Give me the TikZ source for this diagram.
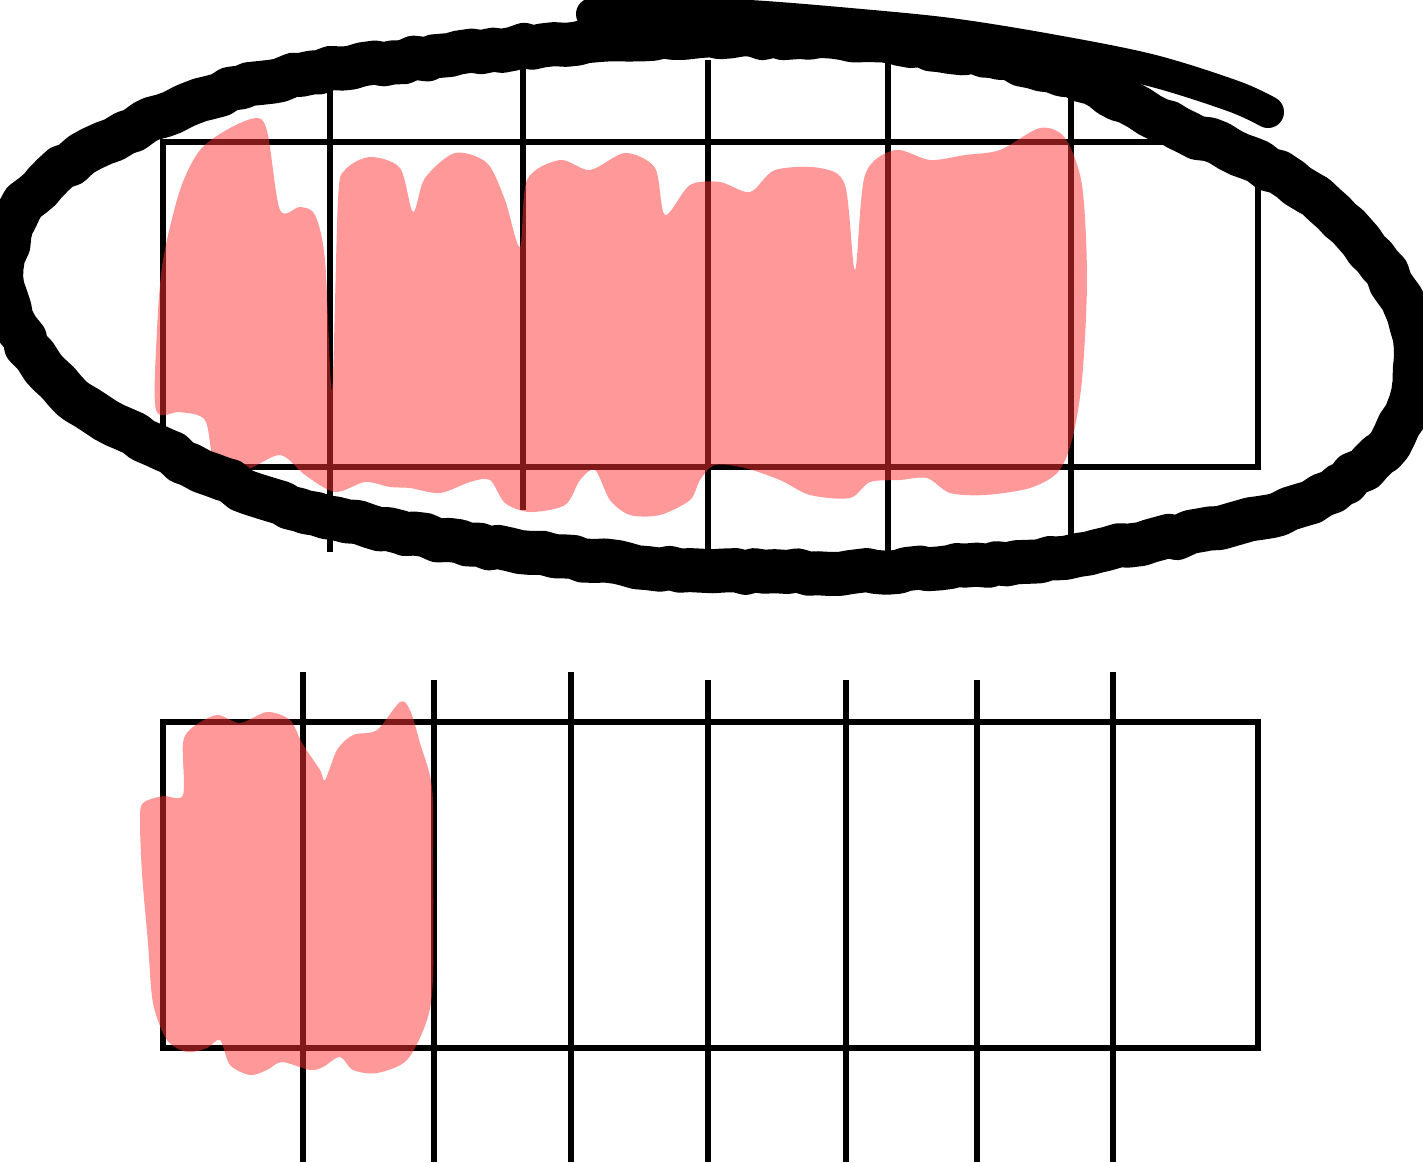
\documentclass[tikz,border=0pt]{standalone}
\usepackage{tikz}
\usetikzlibrary{decorations.pathmorphing}
\definecolor{shade}{RGB}{255,51,51}
\definecolor{ink}{HTML}{000000}

\begin{document}
\begin{tikzpicture}[x=0.01cm,y=-0.01cm,
  bar/.style={draw=ink,line width=0.6mm},
  tick/.style={draw=ink,line width=0.6mm},
  scribble/.style={fill=shade,fill opacity=0.5,draw=none},
  pen/.style={draw=ink,line width=4.4mm,line join=round,line cap=round},
  loop/.style={pen,decorate,decoration={random steps,segment length=3pt,amplitude=0.6pt}}]
\useasboundingbox (0,0) rectangle (1423,1162);

% top bar: six parts
\foreach \x/\y in {330/552,523/510,708/552,888/552,1071/535}
  \draw[tick] (\x,60) -- (\x,\y);
\draw[bar] (163,142) rectangle (1258,467);

% bottom bar: eight parts
\foreach \x/\y in {303/672,434/680,571/672,708/680,846/680,977/680,1113/672}
  \draw[tick] (\x,\y) -- (\x,1162);
\draw[bar] (163,722) rectangle (1258,1048);

% shading, five of six
\fill[scribble] plot[smooth cycle,tension=0.5] coordinates {
  (156,410) (157,330) (163,260) (180,190) (200,150) (230,128) (258,118)
  (268,135) (280,210) (300,207) (315,215) (325,260) (332,390) (338,200)
  (345,170) (370,157) (400,168) (413,212) (425,178) (455,153) (487,163)
  (505,200) (520,247) (527,180) (560,160) (590,170) (625,153) (655,168)
  (665,215) (690,185) (720,182) (750,192) (775,170) (820,168) (845,185)
  (855,270) (865,175) (895,150) (930,160) (965,155) (1000,150) (1040,128)
  (1065,138) (1082,185) (1087,280) (1082,380) (1072,440) (1058,472)
  (1030,488) (985,495) (950,493) (927,478) (900,480) (870,482) (850,498)
  (810,495) (780,480) (745,468) (715,465) (700,480) (690,500) (660,515)
  (630,515) (610,500) (595,470) (580,480) (565,505) (530,512) (505,503)
  (490,480) (470,482) (440,493) (410,488) (390,487) (365,482) (335,492)
  (305,475) (280,455) (245,470) (215,462) (205,420) (180,412)};

% shading, two of eight
\fill[scribble] plot[smooth cycle,tension=0.5] coordinates {
  (143,803) (163,796) (183,795) (183,743) (193,727) (217,715) (240,723)
  (267,712) (290,720) (302,743) (320,770) (325,780) (337,750) (353,735)
  (377,730) (400,702) (410,710) (420,743) (432,787) (433,860) (433,977)
  (427,1020) (407,1060) (377,1073) (353,1070) (340,1057) (323,1067)
  (310,1070) (282,1062) (267,1070) (250,1075) (230,1065) (220,1040)
  (207,1048) (187,1052) (167,1040) (153,1003) (148,943) (142,873) (140,820)};

% ring round the top bar
\draw[loop] plot[smooth cycle,tension=0.55] coordinates {
  (600,40) (700,36) (800,37) (900,44) (1000,58) (1080,80) (1150,115)
  (1230,150) (1290,180) (1340,220) (1380,265) (1408,315) (1415,360)
  (1405,415) (1378,455) (1340,485) (1300,505) (1230,525) (1150,541)
  (1050,558) (950,567) (850,572) (690,570) (520,552) (400,532) (300,510)
  (210,474) (124,429) (72,398) (35,355) (12,318) (2,277) (15,220)
  (45,183) (75,160) (125,133) (200,100) (300,75) (450,55)};
\draw[pen,line width=3.2mm] plot[smooth,tension=0.55] coordinates {
  (592,14) (650,12) (750,16) (850,24) (950,34) (1050,50) (1150,70)
  (1233,96) (1268,112)};
\end{tikzpicture}
\end{document}
